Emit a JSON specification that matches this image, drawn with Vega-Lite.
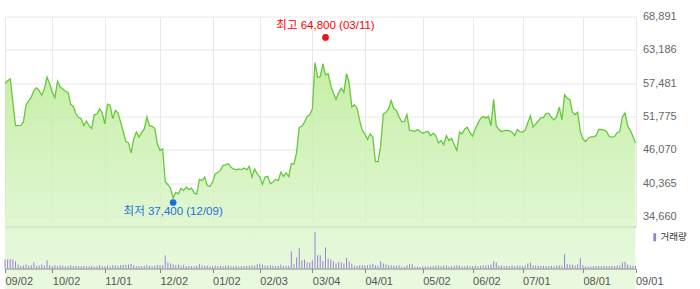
{
"$schema": "https://vega.github.io/schema/vega-lite/v6.json",
"autosize": {"type": "pad"},
"padding": {"left": 2, "top": 10.5, "right": 0, "bottom": 0},
"background": "#ffffff",
"spacing": 0,
"bounds": "flush",
"config": {"view": {"stroke": null}, "font": "Liberation Sans, Noto Sans CJK KR, sans-serif", "concat": {"spacing": 0}},
"resolve": {"scale": {"x": "shared"}},
"datasets": {
"d": [
{"d":"2024-09-02","p":57400,"v":930000},{"d":"2024-09-03","p":57900,"v":930000},{"d":"2024-09-04","p":58200,"v":930000},{"d":"2024-09-05","p":54200,"v":930000},{"d":"2024-09-06","p":50200,"v":700000},{"d":"2024-09-09","p":50200,"v":400000},{"d":"2024-09-10","p":50250,"v":250000},{"d":"2024-09-11","p":50800,"v":300000},{"d":"2024-09-12","p":53700,"v":400000},{"d":"2024-09-13","p":54500,"v":270000},{"d":"2024-09-19","p":55100,"v":330000},{"d":"2024-09-20","p":56200,"v":630000},{"d":"2024-09-23","p":56700,"v":230000},{"d":"2024-09-24","p":56200,"v":300000},{"d":"2024-09-25","p":55400,"v":400000},{"d":"2024-09-26","p":56500,"v":270000},{"d":"2024-09-27","p":58500,"v":830000},{"d":"2024-09-30","p":57400,"v":330000},
{"d":"2024-10-02","p":55900,"v":230000},{"d":"2024-10-04","p":55000,"v":330000},{"d":"2024-10-07","p":57800,"v":230000},{"d":"2024-10-08","p":56800,"v":330000},{"d":"2024-10-10","p":56500,"v":270000},{"d":"2024-10-11","p":56100,"v":230000},{"d":"2024-10-14","p":55900,"v":230000},{"d":"2024-10-15","p":53900,"v":330000},{"d":"2024-10-16","p":53500,"v":230000},{"d":"2024-10-17","p":52200,"v":270000},{"d":"2024-10-18","p":51600,"v":230000},{"d":"2024-10-21","p":51400,"v":230000},{"d":"2024-10-22","p":50200,"v":270000},{"d":"2024-10-23","p":51000,"v":230000},{"d":"2024-10-24","p":50200,"v":230000},{"d":"2024-10-25","p":49750,"v":270000},{"d":"2024-10-28","p":52100,"v":200000},{"d":"2024-10-29","p":52200,"v":230000},{"d":"2024-10-30","p":53100,"v":330000},{"d":"2024-10-31","p":52400,"v":230000},
{"d":"2024-11-01","p":50500,"v":230000},{"d":"2024-11-04","p":53900,"v":300000},{"d":"2024-11-05","p":53700,"v":230000},{"d":"2024-11-06","p":51400,"v":330000},{"d":"2024-11-07","p":52800,"v":330000},{"d":"2024-11-08","p":52400,"v":250000},{"d":"2024-11-11","p":50800,"v":330000},{"d":"2024-11-12","p":49200,"v":370000},{"d":"2024-11-13","p":47500,"v":370000},{"d":"2024-11-14","p":47250,"v":400000},{"d":"2024-11-15","p":45550,"v":450000},{"d":"2024-11-18","p":47950,"v":300000},{"d":"2024-11-19","p":49100,"v":230000},{"d":"2024-11-20","p":48250,"v":270000},{"d":"2024-11-21","p":49000,"v":230000},{"d":"2024-11-22","p":49650,"v":270000},{"d":"2024-11-25","p":51700,"v":370000},{"d":"2024-11-26","p":50200,"v":270000},{"d":"2024-11-27","p":50100,"v":230000},{"d":"2024-11-28","p":49750,"v":270000},{"d":"2024-11-29","p":47100,"v":370000},
{"d":"2024-12-02","p":45950,"v":330000},{"d":"2024-12-03","p":46250,"v":330000},{"d":"2024-12-04","p":40650,"v":1330000},{"d":"2024-12-05","p":40100,"v":600000},{"d":"2024-12-06","p":39500,"v":500000},{"d":"2024-12-09","p":37800,"v":430000},{"d":"2024-12-10","p":38800,"v":330000},{"d":"2024-12-11","p":38550,"v":400000},{"d":"2024-12-12","p":39500,"v":270000},{"d":"2024-12-13","p":39100,"v":370000},{"d":"2024-12-16","p":39700,"v":230000},{"d":"2024-12-17","p":39250,"v":270000},{"d":"2024-12-18","p":39500,"v":230000},{"d":"2024-12-19","p":38700,"v":230000},{"d":"2024-12-20","p":38500,"v":270000},{"d":"2024-12-23","p":41000,"v":430000},{"d":"2024-12-24","p":40800,"v":300000},{"d":"2024-12-26","p":41400,"v":270000},{"d":"2024-12-27","p":39950,"v":270000},{"d":"2024-12-30","p":39800,"v":230000},
{"d":"2025-01-02","p":40550,"v":230000},{"d":"2025-01-03","p":41950,"v":300000},{"d":"2025-01-06","p":42200,"v":230000},{"d":"2025-01-07","p":42550,"v":270000},{"d":"2025-01-08","p":43400,"v":230000},{"d":"2025-01-09","p":43500,"v":270000},{"d":"2025-01-10","p":43700,"v":300000},{"d":"2025-01-13","p":43100,"v":230000},{"d":"2025-01-14","p":42800,"v":230000},{"d":"2025-01-15","p":42650,"v":270000},{"d":"2025-01-16","p":42800,"v":200000},{"d":"2025-01-17","p":42700,"v":230000},{"d":"2025-01-20","p":42950,"v":230000},{"d":"2025-01-21","p":42650,"v":270000},{"d":"2025-01-22","p":43250,"v":270000},{"d":"2025-01-23","p":41400,"v":330000},{"d":"2025-01-24","p":42800,"v":270000},{"d":"2025-01-31","p":41950,"v":430000},
{"d":"2025-02-03","p":41400,"v":500000},{"d":"2025-02-04","p":40150,"v":370000},{"d":"2025-02-05","p":41400,"v":300000},{"d":"2025-02-06","p":41550,"v":270000},{"d":"2025-02-07","p":40250,"v":330000},{"d":"2025-02-10","p":40550,"v":270000},{"d":"2025-02-11","p":41000,"v":230000},{"d":"2025-02-12","p":40800,"v":270000},{"d":"2025-02-13","p":42250,"v":400000},{"d":"2025-02-14","p":41550,"v":270000},{"d":"2025-02-17","p":42150,"v":270000},{"d":"2025-02-18","p":41500,"v":270000},{"d":"2025-02-19","p":43700,"v":1730000},{"d":"2025-02-20","p":43650,"v":430000},{"d":"2025-02-21","p":45650,"v":1130000},{"d":"2025-02-24","p":49950,"v":2030000},{"d":"2025-02-25","p":50100,"v":800000},{"d":"2025-02-26","p":50800,"v":900000},{"d":"2025-02-27","p":51800,"v":630000},{"d":"2025-02-28","p":52050,"v":600000},
{"d":"2025-03-04","p":53100,"v":830000},{"d":"2025-03-05","p":61000,"v":3650000},{"d":"2025-03-06","p":58500,"v":1330000},{"d":"2025-03-07","p":58600,"v":1330000},{"d":"2025-03-10","p":60800,"v":750000},{"d":"2025-03-11","p":58900,"v":2150000},{"d":"2025-03-12","p":59100,"v":1000000},{"d":"2025-03-13","p":57100,"v":900000},{"d":"2025-03-14","p":55800,"v":730000},{"d":"2025-03-17","p":54700,"v":500000},{"d":"2025-03-18","p":55900,"v":670000},{"d":"2025-03-19","p":56600,"v":600000},{"d":"2025-03-20","p":55900,"v":500000},{"d":"2025-03-21","p":59100,"v":1070000},{"d":"2025-03-24","p":57600,"v":730000},{"d":"2025-03-25","p":53400,"v":500000},{"d":"2025-03-26","p":53800,"v":270000},{"d":"2025-03-27","p":53200,"v":270000},{"d":"2025-03-28","p":51100,"v":330000},{"d":"2025-03-31","p":49400,"v":330000},
{"d":"2025-04-01","p":48800,"v":330000},{"d":"2025-04-02","p":47850,"v":330000},{"d":"2025-04-03","p":48800,"v":400000},{"d":"2025-04-04","p":48250,"v":470000},{"d":"2025-04-07","p":44050,"v":330000},{"d":"2025-04-08","p":44050,"v":270000},{"d":"2025-04-09","p":46800,"v":730000},{"d":"2025-04-10","p":52200,"v":500000},{"d":"2025-04-11","p":52500,"v":400000},{"d":"2025-04-14","p":53100,"v":330000},{"d":"2025-04-15","p":54500,"v":330000},{"d":"2025-04-16","p":53100,"v":270000},{"d":"2025-04-17","p":52800,"v":270000},{"d":"2025-04-18","p":51700,"v":330000},{"d":"2025-04-21","p":50900,"v":170000},{"d":"2025-04-22","p":50900,"v":170000},{"d":"2025-04-23","p":52100,"v":330000},{"d":"2025-04-24","p":49400,"v":430000},{"d":"2025-04-25","p":49350,"v":430000},{"d":"2025-04-28","p":49200,"v":170000},{"d":"2025-04-29","p":49550,"v":170000},{"d":"2025-04-30","p":49200,"v":170000},
{"d":"2025-05-02","p":48900,"v":230000},{"d":"2025-05-07","p":49100,"v":230000},{"d":"2025-05-08","p":49200,"v":200000},{"d":"2025-05-09","p":48500,"v":230000},{"d":"2025-05-12","p":48900,"v":230000},{"d":"2025-05-13","p":48500,"v":270000},{"d":"2025-05-14","p":47250,"v":300000},{"d":"2025-05-15","p":47650,"v":230000},{"d":"2025-05-16","p":46950,"v":270000},{"d":"2025-05-19","p":48500,"v":300000},{"d":"2025-05-20","p":47650,"v":200000},{"d":"2025-05-21","p":48050,"v":230000},{"d":"2025-05-22","p":46950,"v":270000},{"d":"2025-05-23","p":45950,"v":330000},{"d":"2025-05-26","p":49100,"v":270000},{"d":"2025-05-27","p":48800,"v":200000},{"d":"2025-05-28","p":49650,"v":230000},{"d":"2025-05-29","p":49950,"v":300000},{"d":"2025-05-30","p":49000,"v":230000},
{"d":"2025-06-02","p":48400,"v":230000},{"d":"2025-06-04","p":49650,"v":270000},{"d":"2025-06-05","p":50600,"v":230000},{"d":"2025-06-09","p":51400,"v":270000},{"d":"2025-06-10","p":51800,"v":330000},{"d":"2025-06-11","p":51500,"v":300000},{"d":"2025-06-12","p":51800,"v":330000},{"d":"2025-06-13","p":50200,"v":400000},{"d":"2025-06-16","p":54700,"v":730000},{"d":"2025-06-17","p":50200,"v":600000},{"d":"2025-06-18","p":49550,"v":270000},{"d":"2025-06-19","p":49200,"v":270000},{"d":"2025-06-20","p":49350,"v":230000},{"d":"2025-06-23","p":49400,"v":270000},{"d":"2025-06-24","p":49350,"v":230000},{"d":"2025-06-25","p":49100,"v":330000},{"d":"2025-06-26","p":48500,"v":230000},{"d":"2025-06-27","p":49550,"v":270000},{"d":"2025-06-30","p":49200,"v":300000},
{"d":"2025-07-01","p":49100,"v":230000},{"d":"2025-07-02","p":49400,"v":300000},{"d":"2025-07-03","p":50700,"v":500000},{"d":"2025-07-04","p":51900,"v":570000},{"d":"2025-07-07","p":49950,"v":330000},{"d":"2025-07-08","p":50500,"v":300000},{"d":"2025-07-09","p":51000,"v":270000},{"d":"2025-07-10","p":51600,"v":270000},{"d":"2025-07-11","p":51600,"v":270000},{"d":"2025-07-14","p":52300,"v":230000},{"d":"2025-07-15","p":52300,"v":230000},{"d":"2025-07-16","p":51600,"v":270000},{"d":"2025-07-17","p":51200,"v":230000},{"d":"2025-07-18","p":51800,"v":300000},{"d":"2025-07-21","p":53400,"v":300000},{"d":"2025-07-22","p":51200,"v":270000},{"d":"2025-07-23","p":55500,"v":1430000},{"d":"2025-07-24","p":54900,"v":430000},{"d":"2025-07-25","p":54700,"v":400000},{"d":"2025-07-28","p":52500,"v":370000},{"d":"2025-07-29","p":52100,"v":300000},{"d":"2025-07-30","p":52500,"v":400000},{"d":"2025-07-31","p":49200,"v":1030000},
{"d":"2025-08-01","p":47950,"v":330000},{"d":"2025-08-04","p":47500,"v":230000},{"d":"2025-08-05","p":48050,"v":200000},{"d":"2025-08-06","p":48300,"v":200000},{"d":"2025-08-07","p":48300,"v":230000},{"d":"2025-08-08","p":48500,"v":230000},{"d":"2025-08-11","p":49550,"v":270000},{"d":"2025-08-12","p":49550,"v":230000},{"d":"2025-08-13","p":49450,"v":270000},{"d":"2025-08-14","p":49200,"v":230000},{"d":"2025-08-18","p":48350,"v":230000},{"d":"2025-08-19","p":48250,"v":270000},{"d":"2025-08-20","p":48350,"v":230000},{"d":"2025-08-21","p":49000,"v":300000},{"d":"2025-08-22","p":49200,"v":300000},{"d":"2025-08-25","p":51700,"v":600000},{"d":"2025-08-26","p":52400,"v":670000},{"d":"2025-08-27","p":50200,"v":400000},{"d":"2025-08-28","p":49400,"v":300000},{"d":"2025-08-29","p":48400,"v":270000},
{"d":"2025-09-01","p":47250,"v":270000}
],
"hi": [{"d":"2025-03-11","p":64800,"t":"최고 64,800 (03/11)"}],
"lo": [{"d":"2024-12-09","p":37400,"t":"최저 37,400 (12/09)"}]
},
"vconcat": [
{
"width": 630.5,
"height": 210,
"layer": [
{
"data": {"name": "d"},
"mark": {"type": "area", "opacity": 0.8, "fill": {"gradient": "linear", "x1": 0, "y1": 0, "x2": 0, "y2": 1, "stops": [{"offset": 0, "color": "#b8ea90"}, {"offset": 0.5, "color": "#dcf6cd"}, {"offset": 1, "color": "#fafdf6"}]}},
"encoding": {
"x": {"field": "d", "type": "ordinal", "scale": {"type": "point", "padding": 0},
"axis": {"values": ["2024-09-02","2024-10-02","2024-11-01","2024-12-02","2025-01-02","2025-02-03","2025-03-04","2025-04-01","2025-05-02","2025-06-02","2025-07-01","2025-08-01","2025-09-01"], "labels": false, "ticks": false, "domain": true, "domainColor": "#737373", "domainWidth": 1.2, "grid": true, "gridColor": "#e8e8e8", "title": null}},
"y": {"field": "p", "type": "quantitative", "scale": {"domain": [32948.4, 68891], "nice": false, "zero": false},
"axis": {"orient": "right", "values": [34660, 40365, 46070, 51775, 57481, 63186, 68891], "tickCount": 20, "format": ",d", "grid": true, "gridColor": "#e8e8e8", "ticks": false, "domain": false, "labelPadding": 7, "labelColor": "#666666", "labelFontSize": 11, "labelFont": "Liberation Sans", "labelOverlap": false, "labelFlush": false, "title": null}}
}
},
{
"data": {"name": "d"},
"mark": {"type": "line", "color": "#66c93a", "strokeWidth": 1.3},
"encoding": {"x": {"field": "d", "type": "ordinal"}, "y": {"field": "p", "type": "quantitative"}}
},
{
"data": {"name": "hi"},
"mark": {"type": "point", "filled": true, "opacity": 1, "color": "#f01010", "size": 45, "yOffset": -3},
"encoding": {"x": {"field": "d", "type": "ordinal"}, "y": {"field": "p", "type": "quantitative"}}
},
{
"data": {"name": "hi"},
"mark": {"type": "text", "color": "#ff0000", "fontSize": 11.5, "align": "center", "baseline": "middle", "dy": -14, "font": "Liberation Sans, Noto Sans CJK KR, sans-serif"},
"encoding": {"x": {"field": "d", "type": "ordinal"}, "y": {"field": "p", "type": "quantitative"}, "text": {"field": "t"}}
},
{
"data": {"name": "lo"},
"mark": {"type": "point", "filled": true, "opacity": 1, "color": "#1a6ee0", "size": 45, "yOffset": 2},
"encoding": {"x": {"field": "d", "type": "ordinal"}, "y": {"field": "p", "type": "quantitative"}}
},
{
"data": {"name": "lo"},
"mark": {"type": "text", "color": "#1e6fd9", "fontSize": 11.5, "align": "center", "baseline": "middle", "dy": 12, "font": "Liberation Sans, Noto Sans CJK KR, sans-serif"},
"encoding": {"x": {"field": "d", "type": "ordinal"}, "y": {"field": "p", "type": "quantitative"}, "text": {"field": "t"}}
}
]
},
{
"width": 630.5,
"height": 42,
"data": {"name": "d"},
"mark": {"type": "bar", "size": 1},
"encoding": {
"x": {"field": "d", "type": "ordinal", "scale": {"type": "point", "padding": 0},
"axis": {"values": ["2024-09-02","2024-10-02","2024-11-01","2024-12-02","2025-01-02","2025-02-03","2025-03-04","2025-04-01","2025-05-02","2025-06-02","2025-07-01","2025-08-01","2025-09-01"], "labelExpr": "substring(datum.value, 5, 7) + '/' + substring(datum.value, 8, 10)", "labelAlign": "left", "labelAngle": 0, "labelPadding": 3, "labelFontSize": 11, "labelColor": "#555555", "labelFont": "Liberation Sans", "labelOverlap": false, "tickSize": 4, "tickColor": "#888888", "domainColor": "#888888", "grid": false, "title": null}},
"y": {"field": "v", "type": "quantitative", "scale": {"domain": [0, 4230000], "nice": false}, "axis": null},
"color": {"datum": "거래량", "scale": {"range": ["#9a80d4"]},
"legend": {"orient": "none", "legendX": 645, "legendY": 216, "title": null, "padding": 0, "symbolType": "M-0.7,-2H0.7V2H-0.7Z", "symbolSize": 16, "symbolStrokeWidth": 0, "labelFontSize": 9.5, "labelColor": "#333333", "labelOffset": 1, "labelFont": "Noto Sans CJK KR"}}
}
}
]
}
